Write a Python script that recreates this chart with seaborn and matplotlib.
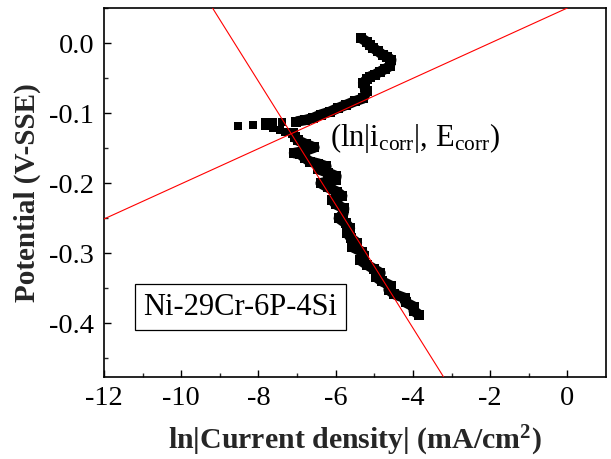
import matplotlib
matplotlib.use("Agg")
import matplotlib.pyplot as plt
import seaborn as sns
import pandas as pd

# Polarization scan, lower (cathodic) part up to the scatter near E_corr
lower_lnI = [-3.83, -3.98, -3.98, -4.19, -4.20, -4.49, -4.63, -4.58, -4.80, -4.95, -4.84,
             -5.02, -5.20, -5.36, -5.27, -5.31, -5.57, -5.45, -5.61, -5.70, -5.63, -5.74,
             -5.92, -5.80, -5.78, -6.00, -6.09, -5.83, -5.97, -6.20, -6.39, -6.00, -5.98,
             -6.20, -6.45, -6.24, -6.45, -6.67, -6.80, -6.93, -7.08, -6.80, -6.55, -6.78,
             -6.98, -7.05, -7.10]
lower_E = [-0.388, -0.382, -0.376, -0.370, -0.364, -0.358, -0.352, -0.346, -0.340, -0.334, -0.328,
           -0.322, -0.316, -0.310, -0.304, -0.298, -0.291, -0.285, -0.278, -0.271, -0.264, -0.257,
           -0.250, -0.243, -0.236, -0.230, -0.224, -0.218, -0.212, -0.206, -0.200, -0.195, -0.190,
           -0.185, -0.180, -0.176, -0.172, -0.169, -0.164, -0.158, -0.157, -0.154, -0.149, -0.144,
           -0.139, -0.134, -0.129]

# Isolated readings around the corrosion potential
scatter_lnI = [-7.30, -7.45, -7.62, -7.84, -8.14, -8.53, -7.84, -7.62, -7.40]
scatter_E = [-0.127, -0.124, -0.121, -0.119, -0.117, -0.119, -0.113, -0.112, -0.113]

# Anodic part of the scan
upper_lnI = [-7.02, -6.80, -6.59, -6.38, -6.15, -5.95, -5.72, -5.50, -5.29, -5.20, -5.25,
             -5.29, -5.20, -5.12, -4.98, -4.86, -4.72, -4.60, -4.56, -4.66, -4.78, -4.90,
             -5.03, -5.12, -5.20, -5.34]
upper_E = [-0.112, -0.110, -0.107, -0.102, -0.098, -0.093, -0.088, -0.083, -0.079, -0.069, -0.063,
           -0.057, -0.052, -0.048, -0.045, -0.041, -0.037, -0.033, -0.024, -0.020, -0.017, -0.012,
           -0.007, -0.003, 0.002, 0.007]

# Tafel extrapolation lines (end points)
anodic_lnI = [-12.0, 0.0]
anodic_E = [-0.251, 0.050]
cathodic_lnI = [-9.19, -3.21]
cathodic_E = [0.050, -0.476]

x_ticks = [-12, -10, -8, -6, -4, -2, 0]
y_ticks = [0.0, -0.1, -0.2, -0.3, -0.4]

sns.set_theme(style="ticks")
plt.rcParams["font.family"] = ["Liberation Serif", "DejaVu Serif"]
plt.rcParams["mathtext.fontset"] = "custom"
plt.rcParams["mathtext.rm"] = "Liberation Serif"
plt.rcParams["mathtext.it"] = "Liberation Serif:italic"
plt.rcParams["mathtext.bf"] = "Liberation Serif:bold"

fig = plt.figure(figsize=(6.11, 4.59), dpi=100)
ax = fig.add_axes([0.1702, 0.1793, 0.8216, 0.8033])

lower = pd.DataFrame({"lnI": lower_lnI, "E": lower_E})
upper = pd.DataFrame({"lnI": upper_lnI, "E": upper_E})
pts = pd.DataFrame({"lnI": scatter_lnI, "E": scatter_E})

for df in (lower, upper):
    sns.lineplot(data=df, x="lnI", y="E", sort=False, estimator=None, ax=ax,
                 color="black", lw=7.5, marker="s", markersize=7,
                 markeredgewidth=0, solid_joinstyle="round", solid_capstyle="butt",
                 zorder=2)
sns.scatterplot(data=pts, x="lnI", y="E", ax=ax, color="black", marker="s",
                s=30, linewidth=0, zorder=2)

ax.plot(anodic_lnI, anodic_E, color="red", lw=0.8, zorder=3)
ax.plot(cathodic_lnI, cathodic_E, color="red", lw=0.8, zorder=3)

ax.text(-6.15, -0.135, r"(ln|i$_\mathrm{corr}$|, E$_\mathrm{corr}$)", fontsize=22,
        ha="left", va="center", color="black")
ax.text(-8.47, -0.377, "Ni-29Cr-6P-4Si", fontsize=22, ha="center", va="center",
        color="black",
        bbox=dict(boxstyle="square,pad=0.28", facecolor="white", edgecolor="black", lw=0.9))

ax.set_xlim(-12, 1)
ax.set_ylim(-0.476, 0.05)
ax.set_xticks(x_ticks)
ax.set_xticklabels([str(t) for t in x_ticks])
ax.set_yticks(y_ticks)
ax.set_yticklabels([f"{t:.1f}" for t in y_ticks])
ax.set_xticks([-11, -9, -7, -5, -3, -1], minor=True)
ax.set_yticks([0.05, -0.05, -0.15, -0.25, -0.35, -0.45], minor=True)

ax.tick_params(axis="both", which="major", direction="in", length=5, width=1,
               labelsize=20.5, colors="black", top=False, right=False)
ax.tick_params(axis="both", which="minor", direction="in", length=3, width=1,
               top=False, right=False)
ax.tick_params(axis="x", which="major", pad=7)
ax.tick_params(axis="y", which="major", pad=7)

for sp in ax.spines.values():
    sp.set_linewidth(1.2)
    sp.set_color("black")

ax.set_xlabel(r"ln|Current density| (mA/cm$^\mathbf{2}$)", fontsize=21.5,
              fontweight="bold", labelpad=9)
ax.set_ylabel("Potential (V-SSE)", fontsize=21, fontweight="bold", labelpad=6)

fig.savefig("out.png", dpi=100)
